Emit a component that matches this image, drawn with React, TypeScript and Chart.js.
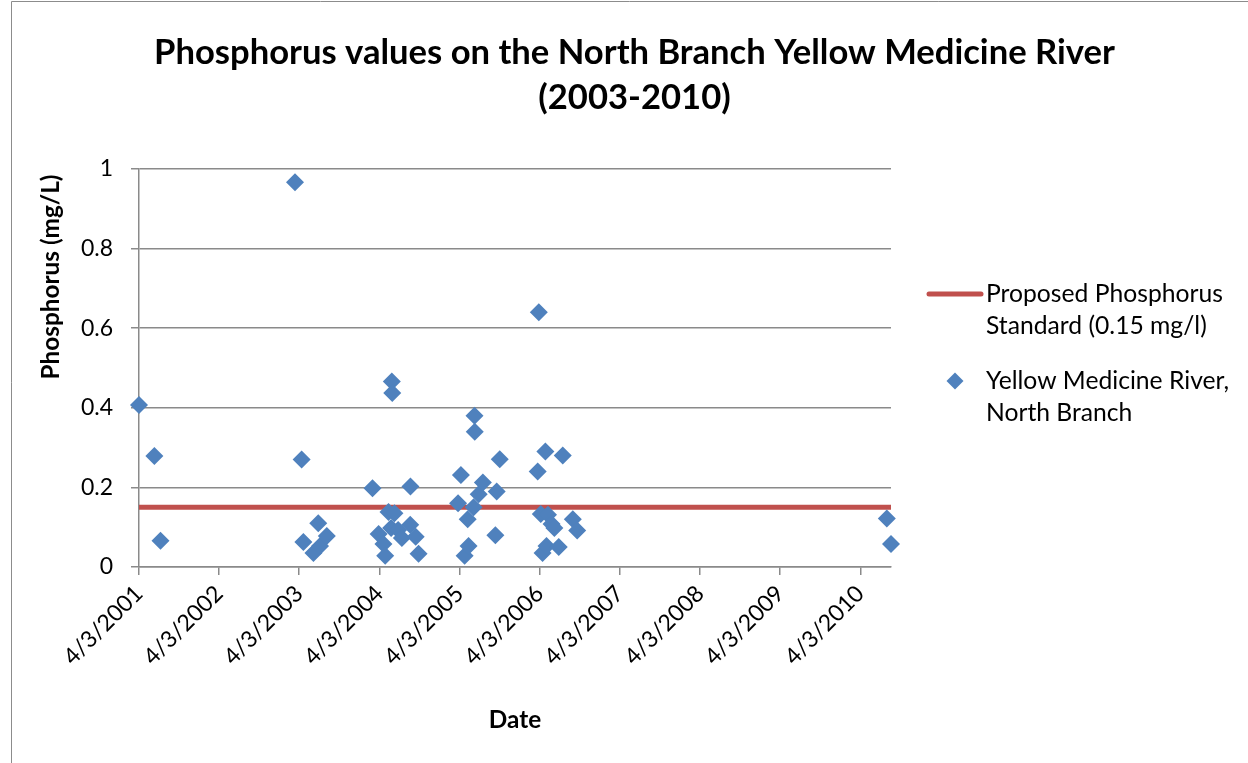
import React, { useEffect, useRef } from 'react';
import { Chart, registerables } from 'chart.js';

Chart.register(...registerables);

// ---------- data ----------
const SAMPLE_DATES = [
  '2001-04-03', '2001-06-12', '2001-07-10',
  '2003-03-15', '2003-04-14', '2003-04-22', '2003-06-07', '2003-06-29', '2003-07-07', '2003-08-07',
  '2004-03-02', '2004-03-30', '2004-04-21', '2004-04-29', '2004-05-14', '2004-05-29', '2004-05-31',
  '2004-05-26', '2004-06-10', '2004-06-27', '2004-07-14', '2004-08-21', '2004-08-22', '2004-09-15', '2004-09-28',
  '2005-03-27', '2005-04-09', '2005-04-26', '2005-05-10', '2005-05-14', '2005-06-06', '2005-06-10',
  '2005-06-11', '2005-06-29', '2005-07-18', '2005-09-13', '2005-09-19', '2005-10-03',
  '2006-03-25', '2006-03-30', '2006-04-08', '2006-04-16', '2006-04-29', '2006-05-04', '2006-05-11',
  '2006-05-27', '2006-06-09', '2006-06-29', '2006-07-17', '2006-09-01', '2006-09-21',
  '2010-08-02', '2010-08-21',
];

const PHOSPHORUS_MG_L = [
  0.407, 0.279, 0.066,
  0.967, 0.27, 0.063, 0.035, 0.11, 0.053, 0.078,
  0.198, 0.083, 0.058, 0.028, 0.138, 0.466, 0.437,
  0.098, 0.135, 0.093, 0.073, 0.106, 0.202, 0.076, 0.033,
  0.16, 0.231, 0.028, 0.12, 0.053, 0.15, 0.38,
  0.34, 0.183, 0.212, 0.08, 0.19, 0.271,
  0.24, 0.64, 0.133, 0.035, 0.29, 0.053, 0.131,
  0.108, 0.098, 0.05, 0.28, 0.12, 0.092,
  0.122, 0.058,
];

const STANDARD_MG_L = 0.15;

const X_TICK_LABELS = [
  '4/3/2001', '4/3/2002', '4/3/2003', '4/3/2004', '4/3/2005',
  '4/3/2006', '4/3/2007', '4/3/2008', '4/3/2009', '4/3/2010',
];

const Y_MIN = 0;
const Y_MAX = 1;
const Y_STEP = 0.2;

const TITLE_LINES = ['Phosphorus values on the North Branch Yellow Medicine River', '(2003-2010)'];
const Y_TITLE = 'Phosphorus (mg/L)';
const X_TITLE = 'Date';
const LEGEND_LINE_LABEL = ['Proposed Phosphorus', 'Standard (0.15 mg/l)'];
const LEGEND_POINT_LABEL = ['Yellow Medicine River,', 'North Branch'];

// ---------- helpers ----------
const DAY_MS = 86400000;
const isoToDay = (s: string) => {
  const [y, m, d] = s.split('-').map(Number);
  return Date.UTC(y, m - 1, d) / DAY_MS;
};
const mdyToDay = (s: string) => {
  const [m, d, y] = s.split('/').map(Number);
  return Date.UTC(y, m - 1, d) / DAY_MS;
};
const dayToMdy = (v: number) => {
  const dt = new Date(Math.round(v) * DAY_MS);
  return `${dt.getUTCMonth() + 1}/${dt.getUTCDate()}/${dt.getUTCFullYear()}`;
};

const FAMILY = 'Lato, "Open Sans", "Noto Sans", sans-serif';
const BLUE = '#4F81BD';
const RED = '#C0504D';
const GRID = '#8a8a8a';

const fitSize = (ctx: CanvasRenderingContext2D, text: string, weight: string, target: number) => {
  ctx.font = `${weight} 100px ${FAMILY}`;
  return (100 * target) / ctx.measureText(text).width;
};

const decorPlugin = {
  id: 'decor',
  afterDraw(chart: any) {
    const ctx: CanvasRenderingContext2D = chart.ctx;
    const area = chart.chartArea;
    ctx.save();

    // outer chart border
    ctx.strokeStyle = '#8c8c8c';
    ctx.lineWidth = 1;
    ctx.beginPath();
    ctx.moveTo(11.5, chart.height);
    ctx.lineTo(11.5, 1.5);
    ctx.lineTo(chart.width, 1.5);
    ctx.stroke();

    ctx.fillStyle = '#000';

    // title
    const tSize = fitSize(ctx, TITLE_LINES[0], 'bold', 961);
    ctx.font = `bold ${tSize}px ${FAMILY}`;
    ctx.textAlign = 'center';
    ctx.textBaseline = 'alphabetic';
    ctx.fillText(TITLE_LINES[0], 634.5, 64);
    ctx.fillText(TITLE_LINES[1], 634.5, 109);

    // axis titles
    const aSize = fitSize(ctx, Y_TITLE, 'bold', 205);
    ctx.font = `bold ${aSize}px ${FAMILY}`;
    ctx.textBaseline = 'middle';
    ctx.save();
    ctx.translate(51, 277);
    ctx.rotate(-Math.PI / 2);
    ctx.fillText(Y_TITLE, 0, 0);
    ctx.restore();
    ctx.fillText(X_TITLE, (area.left + area.right) / 2, 720);

    // legend
    const lSize = fitSize(ctx, LEGEND_LINE_LABEL[0], 'normal', 237);
    ctx.font = `normal ${lSize}px ${FAMILY}`;
    ctx.textAlign = 'left';
    ctx.textBaseline = 'middle';
    const tx = 986;
    ctx.strokeStyle = RED;
    ctx.lineWidth = 5;
    ctx.lineCap = 'round';
    ctx.beginPath();
    ctx.moveTo(929, 294);
    ctx.lineTo(981, 294);
    ctx.stroke();
    ctx.fillText(LEGEND_LINE_LABEL[0], tx, 294);
    ctx.fillText(LEGEND_LINE_LABEL[1], tx, 326);

    ctx.fillStyle = BLUE;
    const r = 8.5;
    ctx.beginPath();
    ctx.moveTo(955 - r, 381);
    ctx.lineTo(955, 381 - r);
    ctx.lineTo(955 + r, 381);
    ctx.lineTo(955, 381 + r);
    ctx.closePath();
    ctx.fill();
    ctx.fillStyle = '#000';
    ctx.fillText(LEGEND_POINT_LABEL[0], tx, 381);
    ctx.fillText(LEGEND_POINT_LABEL[1], tx, 413);

    ctx.restore();
  },
};

export default function App() {
  const canvasRef = useRef<HTMLCanvasElement | null>(null);

  useEffect(() => {
    if (!canvasRef.current) return;
    const xDays = SAMPLE_DATES.map(isoToDay);
    const xMin = Math.min(...xDays);
    const xMax = Math.max(...xDays);
    const tickDays = X_TICK_LABELS.map(mdyToDay);

    const points = xDays.map((x, i) => ({ x, y: PHOSPHORUS_MG_L[i] }));
    const standard = [
      { x: xMin, y: STANDARD_MG_L },
      { x: xMax, y: STANDARD_MG_L },
    ];

    const chart = new Chart(canvasRef.current, {
      type: 'scatter',
      data: {
        datasets: [
          {
            label: 'Yellow Medicine River, North Branch',
            data: points,
            pointStyle: 'rectRot',
            pointRadius: 9,
            pointBackgroundColor: BLUE,
            pointBorderColor: BLUE,
            pointBorderWidth: 0,
            showLine: false,
            order: 0,
            clip: false,
          } as any,
          {
            type: 'line',
            label: 'Proposed Phosphorus Standard (0.15 mg/l)',
            data: standard,
            borderColor: RED,
            borderWidth: 5,
            borderCapStyle: 'round',
            pointRadius: 0,
            showLine: true,
            order: 1,
          } as any,
        ],
      },
      options: {
        animation: false,
        responsive: false,
        devicePixelRatio: 1,
        layout: { padding: { top: 169, right: 357, bottom: 0, left: 0 } },
        plugins: {
          legend: { display: false },
          title: { display: false },
          tooltip: { enabled: false },
        },
        scales: {
          x: {
            type: 'linear',
            min: xMin,
            max: xMax,
            afterBuildTicks: (scale: any) => {
              scale.ticks = tickDays.map((v) => ({ value: v }));
            },
            afterFit: (scale: any) => {
              scale.height = 196;
            },
            ticks: {
              callback: (v: any) => dayToMdy(Number(v)),
              minRotation: 45,
              maxRotation: 45,
              autoSkip: false,
              padding: 5,
              color: '#000',
              font: { family: FAMILY, size: 23 },
            },
            grid: {
              drawOnChartArea: false,
              drawTicks: true,
              tickLength: 8,
              color: GRID,
              lineWidth: 1.5,
            },
            border: { display: true, color: GRID, width: 1.5 },
          },
          y: {
            type: 'linear',
            min: Y_MIN,
            max: Y_MAX,
            afterFit: (scale: any) => {
              scale.width = 139;
            },
            ticks: {
              stepSize: Y_STEP,
              padding: 18,
              color: '#000',
              font: { family: FAMILY, size: 23 },
              callback: (v: any) => String(Math.round(Number(v) * 10) / 10),
            },
            grid: {
              color: GRID,
              lineWidth: 1.5,
              tickLength: 8,
              drawTicks: true,
            },
            border: { display: true, color: GRID, width: 1.5 },
          },
        },
      } as any,
      plugins: [decorPlugin],
    });

    return () => chart.destroy();
  }, []);

  return (
    <div style={{ position: 'absolute', left: 0, top: 0, width: 1248, height: 763, background: '#fff' }}>
      <canvas ref={canvasRef} width={1248} height={763} style={{ display: 'block' }} />
    </div>
  );
}
